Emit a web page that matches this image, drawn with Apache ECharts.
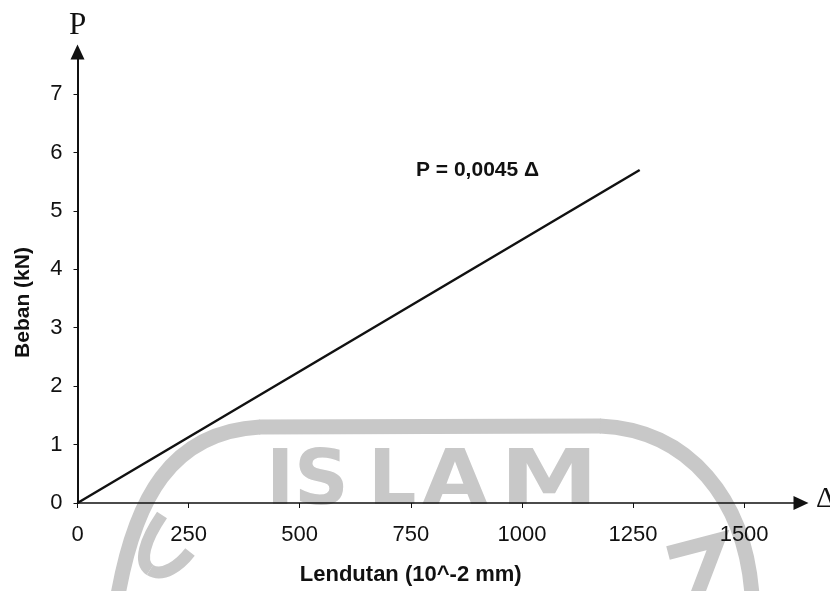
<!DOCTYPE html>
<html>
<head>
<meta charset="utf-8">
<script src="https://cdn.jsdelivr.net/npm/echarts@6/dist/echarts.min.js"></script>
<style>
  html, body { margin: 0; padding: 0; background: #fff; }
  #chart { width: 830px; height: 591px; }
</style>
</head>
<body>
<div id="chart"></div>
<script>
  // data
  var lendutan = [0, 1265]      // 10^-2 mm
  var beban = [0, 5.70]         // kN
  var xTicks = [0, 250, 500, 750, 1000, 1250, 1500]
  var yTicks = [0, 1, 2, 3, 4, 5, 6, 7]
  var xMax = 1628
  var yMax = 7.72
  var rumus = 'P = 0,0045 Δ'

  var points = lendutan.map(function (x, i) { return [x, beban[i]] })
  var grey = '#c8c8c8'

  // faint stamp from the scanned page, drawn behind the chart
  function stampCurve(x1, y1, c1x, c1y, c2x, c2y, x2, y2, w) {
    return {type: 'bezierCurve', z: -10, silent: true,
      shape: {x1: x1, y1: y1, cpx1: c1x, cpy1: c1y, cpx2: c2x, cpy2: c2y, x2: x2, y2: y2},
      style: {fill: 'none', stroke: grey, lineWidth: w}}
  }
  function stampLetter(ch, left, sx) {
    return {type: 'text', z: -10, silent: true, left: left, top: 446, scaleX: sx,
      style: {text: ch, fontFamily: 'DejaVu Sans', fontWeight: 'bold', fontSize: 76, fill: grey}}
  }

  let chart = echarts.init(document.getElementById('chart'), null, {renderer: 'canvas'})
  chart.setOption({
    animation: false,
    backgroundColor: '#fff',
    grid: {
      left: 77.5,
      right: 29,
      top: 52,
      bottom: 88
    },
    xAxis: {
      type: 'value',
      min: 0,
      max: xMax,
      name: 'Lendutan (10^-2 mm)',
      nameLocation: 'middle',
      nameGap: 61,
      nameTextStyle: {
        fontFamily: 'Liberation Sans',
        fontWeight: 'bold',
        fontSize: 22,
        color: '#111',
        padding: [0, 57, 0, 0]
      },
      splitLine: {show: false},
      axisLine: {
        lineStyle: {color: '#111', width: 1.5},
        symbol: ['none', 'triangle'],
        symbolSize: [14, 15]
      },
      axisTick: {
        customValues: xTicks,
        length: 5,
        lineStyle: {color: '#111'}
      },
      axisLabel: {
        customValues: xTicks,
        formatter: function (v) { return String(v) },
        margin: 21,
        fontFamily: 'Liberation Sans',
        fontSize: 22,
        color: '#111'
      }
    },
    yAxis: {
      type: 'value',
      min: 0,
      max: yMax,
      name: 'Beban (kN)',
      nameLocation: 'middle',
      nameGap: 44,
      nameTextStyle: {
        fontFamily: 'Liberation Sans',
        fontWeight: 'bold',
        fontSize: 21,
        color: '#111',
        padding: [0, 50, 0, 0]
      },
      splitLine: {show: false},
      axisLine: {
        lineStyle: {color: '#111', width: 2},
        symbol: ['none', 'triangle'],
        symbolSize: [14, 15]
      },
      axisTick: {
        customValues: yTicks,
        length: 4,
        lineStyle: {color: '#111'}
      },
      axisLabel: {
        customValues: yTicks,
        formatter: function (v) { return String(v) },
        margin: 15,
        fontFamily: 'Liberation Sans',
        fontSize: 22,
        color: '#111'
      }
    },
    graphic: [
      stampCurve(118, 595, 135, 500, 170, 432, 260, 427, 15),
      {type: 'line', z: -10, silent: true,
        shape: {x1: 259, y1: 427, x2: 601, y2: 426},
        style: {stroke: grey, lineWidth: 15}},
      stampCurve(600, 426, 690, 430, 745, 500, 752, 595, 15),
      stampCurve(162, 515, 145, 540, 138, 562, 150, 570, 12),
      stampCurve(150, 570, 163, 578, 180, 565, 190, 552, 12),
      {type: 'polyline', z: -10, silent: true,
        shape: {points: [[668, 553], [718, 540], [697, 595]]},
        style: {fill: 'none', stroke: grey, lineWidth: 14}},
      stampLetter('I', 266, 1),
      stampLetter('S', 294, 1),
      stampLetter('L', 368, 1),
      stampLetter('A', 422, 1.12),
      stampLetter('M', 500, 1.3),
      // axis letters
      {type: 'text', left: 69, top: 10,
        style: {text: 'P', fontFamily: 'Liberation Serif', fontSize: 31, fill: '#111'}},
      {type: 'text', left: 816, top: 484,
        style: {text: 'Δ', fontFamily: 'Liberation Serif', fontSize: 30, fill: '#111'}},
      // equation
      {type: 'text', left: 416, top: 160,
        style: {text: rumus, fontFamily: 'Liberation Sans', fontWeight: 'bold', fontSize: 21, fill: '#111'}}
    ],
    series: [
      {
        type: 'line',
        data: points,
        showSymbol: false,
        lineStyle: {color: '#111', width: 2.5}
      }
    ]
  })
</script>
</body>
</html>
